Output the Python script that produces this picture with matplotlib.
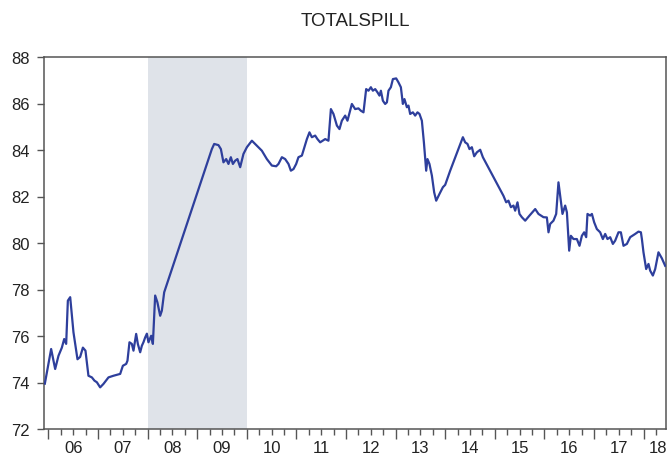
import matplotlib
matplotlib.use("Agg")
import matplotlib.pyplot as plt
from matplotlib.ticker import FixedLocator, FixedFormatter
import matplotlib.transforms as mtransforms
import numpy as np

plt.rcParams['font.family'] = ['Liberation Sans', 'DejaVu Sans']

title = "TOTALSPILL"

# decimal years and index values
dates = [2005.927, 2006.054, 2006.135, 2006.202, 2006.270, 2006.317, 2006.357, 2006.391, 2006.438,
         2006.472, 2006.504, 2006.585, 2006.639, 2006.694, 2006.746, 2006.806, 2006.875, 2006.927,
         2006.976, 2007.042, 2007.109, 2007.210, 2007.310, 2007.446, 2007.500, 2007.567, 2007.593,
         2007.633, 2007.681, 2007.714, 2007.768, 2007.802, 2007.849, 2007.883, 2007.915, 2007.950,
         2007.984, 2008.016, 2008.071, 2008.105, 2008.151, 2008.196, 2008.252, 2008.286, 2008.333,
         2009.294, 2009.341, 2009.427, 2009.476, 2009.528, 2009.583, 2009.629, 2009.677, 2009.718,
         2009.764, 2009.810, 2009.865, 2009.931, 2010.000, 2010.101, 2010.167, 2010.234, 2010.302,
         2010.403, 2010.504, 2010.591, 2010.637, 2010.706, 2010.772, 2010.839, 2010.887, 2010.940,
         2010.994, 2011.040, 2011.109, 2011.210, 2011.262, 2011.310, 2011.377, 2011.423, 2011.478,
         2011.579, 2011.645, 2011.694, 2011.746, 2011.815, 2011.867, 2011.915, 2011.982, 2012.028,
         2012.117, 2012.183, 2012.250, 2012.298, 2012.351, 2012.405, 2012.452, 2012.500, 2012.540,
         2012.587, 2012.633, 2012.673, 2012.702, 2012.742, 2012.788, 2012.823, 2012.855, 2012.903,
         2012.944, 2013.010, 2013.056, 2013.105, 2013.145, 2013.177, 2013.226, 2013.258, 2013.292,
         2013.347, 2013.393, 2013.440, 2013.480, 2013.528, 2013.569, 2013.595, 2013.615, 2013.641,
         2013.681, 2013.730, 2013.776, 2013.817, 2013.883, 2013.952, 2013.998, 2014.099, 2014.355,
         2014.401, 2014.448, 2014.488, 2014.536, 2014.583, 2014.637, 2014.704, 2014.758, 2015.173,
         2015.228, 2015.274, 2015.323, 2015.375, 2015.409, 2015.456, 2015.496, 2015.544, 2015.611,
         2015.698, 2015.813, 2015.879, 2015.980, 2016.048, 2016.081, 2016.115, 2016.181, 2016.236,
         2016.282, 2016.317, 2016.363, 2016.417, 2016.452, 2016.498, 2016.532, 2016.585, 2016.653,
         2016.706, 2016.754, 2016.800, 2016.841, 2016.867, 2016.921, 2016.956, 2017.002, 2017.056,
         2017.123, 2017.177, 2017.224, 2017.270, 2017.325, 2017.379, 2017.425, 2017.492, 2017.540,
         2017.593, 2017.661, 2017.728, 2017.829, 2017.895, 2017.944, 2017.964, 2017.996, 2018.050,
         2018.097, 2018.131, 2018.185, 2018.232, 2018.298, 2018.367, 2018.433]

values = [73.95, 75.44, 74.58, 75.15, 75.50, 75.87, 75.66, 77.52, 77.67,
          76.87, 76.16, 75.00, 75.10, 75.50, 75.37, 74.29, 74.22, 74.08,
          74.01, 73.79, 73.94, 74.22, 74.29, 74.37, 74.72, 74.80, 74.94,
          75.73, 75.66, 75.37, 76.09, 75.66, 75.30, 75.58, 75.73, 75.94,
          76.10, 75.73, 76.01, 75.66, 77.74, 77.45, 76.87, 77.09, 77.88,
          84.04, 84.26, 84.21, 84.04, 83.47, 83.61, 83.40, 83.69, 83.40,
          83.54, 83.61, 83.26, 83.83, 84.12, 84.40, 84.26, 84.12, 83.97,
          83.61, 83.33, 83.30, 83.40, 83.69, 83.61, 83.40, 83.11, 83.18,
          83.40, 83.69, 83.76, 84.47, 84.76, 84.55, 84.62, 84.47, 84.33,
          84.47, 84.40, 85.76, 85.55, 85.05, 84.90, 85.26, 85.48, 85.26,
          85.98, 85.76, 85.79, 85.69, 85.62, 86.62, 86.55, 86.70, 86.55,
          86.62, 86.48, 86.34, 86.55, 86.12, 85.98, 86.05, 86.55, 86.70,
          87.05, 87.08, 86.91, 86.70, 85.98, 86.19, 85.84, 85.91, 85.55,
          85.62, 85.48, 85.62, 85.55, 85.26, 84.33, 83.61, 83.11, 83.61,
          83.40, 82.90, 82.18, 81.82, 82.11, 82.40, 82.50, 83.11, 84.55,
          84.33, 84.26, 84.04, 84.12, 83.73, 83.90, 84.01, 83.69, 82.03,
          81.75, 81.82, 81.54, 81.61, 81.39, 81.75, 81.25, 81.11, 80.96,
          81.18, 81.46, 81.25, 81.11, 81.10, 80.46, 80.82, 80.96, 81.25,
          82.61, 82.03, 81.25, 81.61, 81.32, 79.67, 80.31, 80.17, 80.17,
          79.88, 80.31, 80.46, 80.25, 81.25, 81.18, 81.25, 80.89, 80.60,
          80.46, 80.17, 80.39, 80.17, 80.25, 79.96, 80.10, 80.46, 80.46,
          79.88, 79.96, 80.25, 80.39, 80.49, 80.46, 80.17, 79.60, 78.88,
          79.10, 78.81, 78.60, 78.88, 79.60, 79.34, 79.02]

recession = [2008.0, 2010.0]
years = list(range(2006, 2019))
year_labels = ["06", "07", "08", "09", "10", "11", "12", "13", "14", "15", "16", "17", "18"]
yticks = [72, 74, 76, 78, 80, 82, 84, 86, 88]

fig = plt.figure(figsize=(6.68, 4.60), dpi=100)
ax = fig.add_axes([44/668, 30/460, 622/668, 372/460])

ax.axvspan(recession[0], recession[1], color="#dfe3e9", lw=0, zorder=0)
ax.plot(dates, values, color="#2e3f9c", lw=1.6, zorder=3)

xmin, xmax = 2005.91, 2018.45
ax.set_xlim(xmin, xmax)
ax.set_ylim(72, 88)

ax.set_yticks(yticks)
ax.set_yticklabels([str(v) for v in yticks])

ax.xaxis.set_major_locator(FixedLocator(years))
ax.xaxis.set_major_formatter(FixedFormatter([""] * len(years)))
minor_pos = []
minor_lab = []
for y, lab in zip(years, year_labels):
    for q in (0.25, 0.5, 0.75):
        if y + q < xmax:
            minor_pos.append(y + q)
            minor_lab.append(lab if q == 0.5 else "")
ax.xaxis.set_minor_locator(FixedLocator(minor_pos))
ax.xaxis.set_minor_formatter(FixedFormatter(minor_lab))

# label of the last year (its mid-year lies beyond the axis end), kept inside the figure
trans = mtransforms.blended_transform_factory(fig.transFigure, ax.transAxes)
ax.text(667 / 668, -0.0296, year_labels[-1], transform=trans, ha="right", va="top",
        fontsize=12, color="#222222", clip_on=False)

tick_color = "#555555"
ax.tick_params(axis="x", which="major", direction="out", length=7, width=1, color=tick_color)
ax.tick_params(axis="x", which="minor", direction="out", length=4, width=1, color=tick_color,
               labelsize=12, pad=4, labelcolor="#222222")
ax.tick_params(axis="y", which="major", direction="out", length=5, width=1, color=tick_color,
               labelsize=12, pad=5, labelcolor="#222222")

for s in ax.spines.values():
    s.set_color("#555555")
    s.set_linewidth(1.1)

fig.text((44 + 666) / 2 / 668, 1 - 22 / 460, title, ha="center", va="center",
         fontsize=13.5, color="#222222")

fig.savefig("out.png", dpi=100)
